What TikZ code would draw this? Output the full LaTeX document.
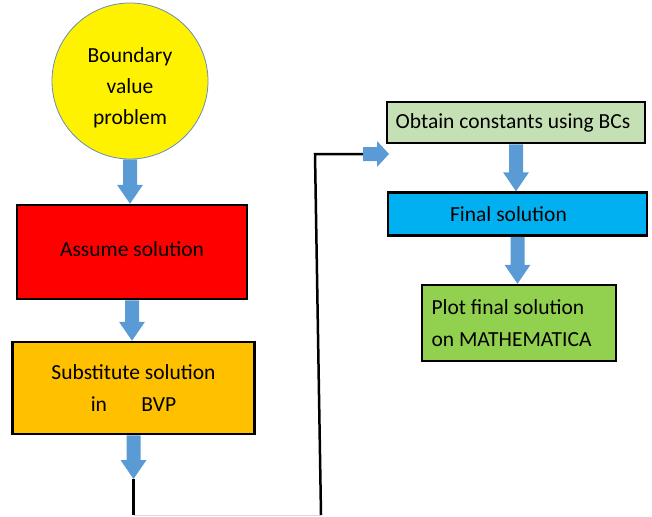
\documentclass[tikz,border=0pt]{standalone}
\usepackage{fontspec}
\setmainfont{Carlito}
\usetikzlibrary{calc}
\definecolor{arrowblue}{HTML}{5B9BD5}
\definecolor{boxorange}{HTML}{FFC000}
\definecolor{boxlightgreen}{HTML}{C5E0B4}
\definecolor{boxblue}{HTML}{00B0F0}
\definecolor{boxgreen}{HTML}{92D050}
\definecolor{circleedge}{HTML}{6A8CB8}
\newcommand{\vblock}[2]{%
  \fill[arrowblue] let \p1=(#1), \p2=(#2) in
    (\x1-7pt,\y1) -- (\x1-7pt,\y2+19pt) -- (\x1-13pt,\y2+19pt) -- (\x1,\y2)
    -- (\x1+13pt,\y2+19pt) -- (\x1+7pt,\y2+19pt) -- (\x1+7pt,\y1) -- cycle;}
\newcommand{\hblock}[2]{%
  \fill[arrowblue] let \p1=(#1), \p2=(#2) in
    (\x1,\y1-7pt) -- (\x2-12pt,\y1-7pt) -- (\x2-12pt,\y1-13pt) -- (\x2,\y1)
    -- (\x2-12pt,\y1+13pt) -- (\x2-12pt,\y1+7pt) -- (\x1,\y1+7pt) -- cycle;}
\begin{document}
\begin{tikzpicture}[x=1pt,y=-1pt,
  box/.style={draw=black, line width=2.5pt, inner sep=0pt, text=black,
              font=\fontsize{21.5}{32}\selectfont},
  conn/.style={draw=black, line width=2.5pt},
  faint/.style={draw=black!15, line width=1pt}]
\useasboundingbox (0,0) rectangle (652,516);

\node[circle, draw=circleedge, line width=0.8pt, fill=yellow, minimum size=156,
      inner sep=0pt, font=\fontsize{21.5}{31}\selectfont] (bvp) at (130,81)
      {\raisebox{-6pt}[\height][\depth]{\begin{tabular}{@{}c@{}}Boundary\\value\\problem\end{tabular}}};
\node[box, fill=red, minimum width=230, minimum height=94] (assume) at (132,252)
      {\raisebox{3pt}[\height][\depth]{Assume solution}};
\node[box, fill=boxorange, minimum width=242, minimum height=92, align=center] (sub) at (133.5,388)
      {Substitute solution\\in\hspace{1.6em}BVP};
\node[box, fill=boxlightgreen, minimum width=258, minimum height=41] (obtain) at (516,122.5)
      {Obtain constants using BCs\hspace*{6pt}};
\node[box, fill=boxblue, minimum width=259, minimum height=43] (final) at (517.5,214)
      {Final solution\hspace*{18pt}};
\node[box, fill=boxgreen, minimum width=194, minimum height=76, align=left] (plot) at (519,323)
      {Plot final solution\\on MATHEMATICA\hspace*{15pt}};

\coordinate (tip3) at (133.5,479);
\coordinate (b1) at (133.5,515);
\coordinate (b2) at (321,515);
\coordinate (c3) at (315,154);
\coordinate (c4) at (363,154);
\coordinate (tip4) at (389,154);

\vblock{bvp.south}{assume.north}
\vblock{assume.south}{sub.north}
\vblock{sub.south}{tip3}
\vblock{obtain.south}{final.north}
\vblock{final.south}{plot.north}

\draw[conn] (tip3) -- (b1);
\draw[faint] (b1) -- (b2);
\draw[conn] (b2) -- (c3) -- (c4);
\hblock{c4}{tip4}
\end{tikzpicture}
\end{document}
